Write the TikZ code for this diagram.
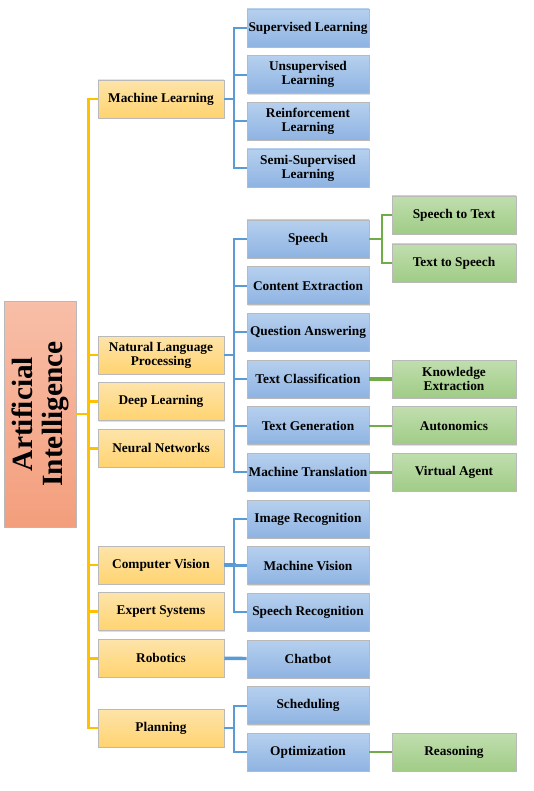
\documentclass[tikz,border=0pt]{standalone}
\usepackage{fontspec}
\setmainfont{Liberation Serif}
\usetikzlibrary{positioning, shadows}
\definecolor{ylwtop}{HTML}{FEE4AA}
\definecolor{ylwbot}{HTML}{FFD370}
\definecolor{blutop}{HTML}{B6D0EE}
\definecolor{blubot}{HTML}{8EB3E2}
\definecolor{grntop}{HTML}{C0DEAE}
\definecolor{grnbot}{HTML}{A0CC86}
\definecolor{saltop}{HTML}{F8BEA8}
\definecolor{salbot}{HTML}{F39E7C}
\definecolor{ylwline}{HTML}{FFC000}
\definecolor{bluline}{HTML}{5B9BD5}
\definecolor{grnline}{HTML}{70AD47}
\tikzset{
  box/.style={draw=gray!55, line width=0.6pt, inner sep=0pt, minimum height=28.5pt, align=center,
    font=\bfseries\fontsize{10}{10.5}\selectfont,
    drop shadow={shadow xshift=0.8pt, shadow yshift=-0.8pt, opacity=0.25}},
  topic/.style={box, minimum width=94.5pt, top color=ylwtop, bottom color=ylwbot},
  subtopic/.style={box, minimum width=91.5pt, top color=blutop, bottom color=blubot},
  leaf/.style={box, minimum width=93pt, top color=grntop, bottom color=grnbot},
  elbow/.style={to path={-- ++(#1,0) |- (\tikztotarget) \tikztonodes}},
  ylink/.style={draw=ylwline, line width=1.9pt},
  blink/.style={draw=bluline, line width=1.5pt},
  glink/.style={draw=grnline, line width=1.5pt},
  heavy/.style={line width=2.6pt}
}

\begin{document}
\begin{tikzpicture}[x=0.75pt, y=-0.75pt, node distance=35pt]
\useasboundingbox (0,0) rectangle (534,791);
\node[box, rotate=90, minimum width=169.5pt, minimum height=54pt, top color=saltop, bottom color=salbot,
  font=\bfseries\fontsize{22}{22.5}\selectfont] (ai) at (40,414) {Artificial\\Intelligence};

\node[topic] (machine_learning) at (161,99) {Machine Learning};
\node[topic] (nlp) at (161,355) {Natural Language\\Processing};
\node[topic, below of=nlp] (deep_learning) {Deep Learning};
\node[topic, below of=deep_learning] (neural_networks) {Neural Networks};
\node[topic] (computer_vision) at (161,565) {Computer Vision};
\node[topic, below of=computer_vision] (expert_systems) {Expert Systems};
\node[topic, below of=expert_systems] (robotics) {Robotics};
\node[topic] (planning) at (161,728) {Planning};

\node[subtopic] (supervised) at (308,28) {Supervised Learning};
\node[subtopic, below of=supervised] (unsupervised) {Unsupervised\\Learning};
\node[subtopic, below of=unsupervised] (reinforcement) {Reinforcement\\Learning};
\node[subtopic, below of=reinforcement] (semi_supervised) {Semi-Supervised\\Learning};
\node[subtopic] (speech) at (308,239) {Speech};
\node[subtopic, below of=speech] (content_extraction) {Content Extraction};
\node[subtopic, below of=content_extraction] (question_answering) {Question Answering};
\node[subtopic, below of=question_answering] (text_classification) {Text Classification};
\node[subtopic, below of=text_classification] (text_generation) {Text Generation};
\node[subtopic, below of=text_generation] (machine_translation) {Machine Translation};
\node[subtopic, below of=machine_translation] (image_recognition) {Image Recognition};
\node[subtopic, below of=image_recognition] (machine_vision) {Machine Vision};
\node[subtopic, below of=machine_vision] (speech_recognition) {Speech Recognition};
\node[subtopic, below of=speech_recognition] (chatbot) {Chatbot};
\node[subtopic, below of=chatbot] (scheduling) {Scheduling};
\node[subtopic, below of=scheduling] (optimization) {Optimization};

\node[leaf] (speech_to_text) at (454,215) {Speech to Text};
\node[leaf] (text_to_speech) at (454,263) {Text to Speech};
\node[leaf, right of=text_classification, node distance=109.5pt] (knowledge_extraction) {Knowledge\\Extraction};
\node[leaf, right of=text_generation, node distance=109.5pt] (autonomics) {Autonomics};
\node[leaf, right of=machine_translation, node distance=109.5pt] (virtual_agent) {Virtual Agent};
\node[leaf, right of=optimization, node distance=109.5pt] (reasoning) {Reasoning};

\draw[ylink] (ai.south) edge[elbow=9pt] (machine_learning) (ai.south) edge[elbow=9pt] (nlp)
  (ai.south) edge[elbow=9pt] (deep_learning) (ai.south) edge[elbow=9pt] (neural_networks)
  (ai.south) edge[elbow=9pt] (computer_vision) (ai.south) edge[elbow=9pt] (expert_systems)
  (ai.south) edge[elbow=9pt] (robotics) (ai.south) edge[elbow=9pt] (planning);
\draw[blink] (machine_learning.east) edge[elbow=7.5pt] (supervised) (machine_learning.east) edge[elbow=7.5pt] (unsupervised)
  (machine_learning.east) edge[elbow=7.5pt] (reinforcement) (machine_learning.east) edge[elbow=7.5pt] (semi_supervised);
\draw[blink] (nlp.east) edge[elbow=7.5pt] (speech) (nlp.east) edge[elbow=7.5pt] (content_extraction)
  (nlp.east) edge[elbow=7.5pt] (question_answering) (nlp.east) edge[elbow=7.5pt] (text_classification)
  (nlp.east) edge[elbow=7.5pt] (text_generation) (nlp.east) edge[elbow=7.5pt] (machine_translation);
\draw[blink] (computer_vision.east) edge[elbow=7.5pt] (image_recognition) (computer_vision.east) edge[elbow=7.5pt, heavy] (machine_vision)
  (computer_vision.east) edge[elbow=7.5pt] (speech_recognition);
\draw[blink] (robotics.east) edge[heavy] (chatbot);
\draw[blink] (planning.east) edge[elbow=7.5pt] (scheduling) (planning.east) edge[elbow=7.5pt] (optimization);
\draw[glink] (speech.east) edge[elbow=9.75pt] (speech_to_text) (speech.east) edge[elbow=9.75pt] (text_to_speech)
  (text_classification.east) edge[heavy] (knowledge_extraction) (text_generation.east) edge (autonomics)
  (machine_translation.east) edge[heavy] (virtual_agent) (optimization.east) edge (reasoning);
\end{tikzpicture}
\end{document}
